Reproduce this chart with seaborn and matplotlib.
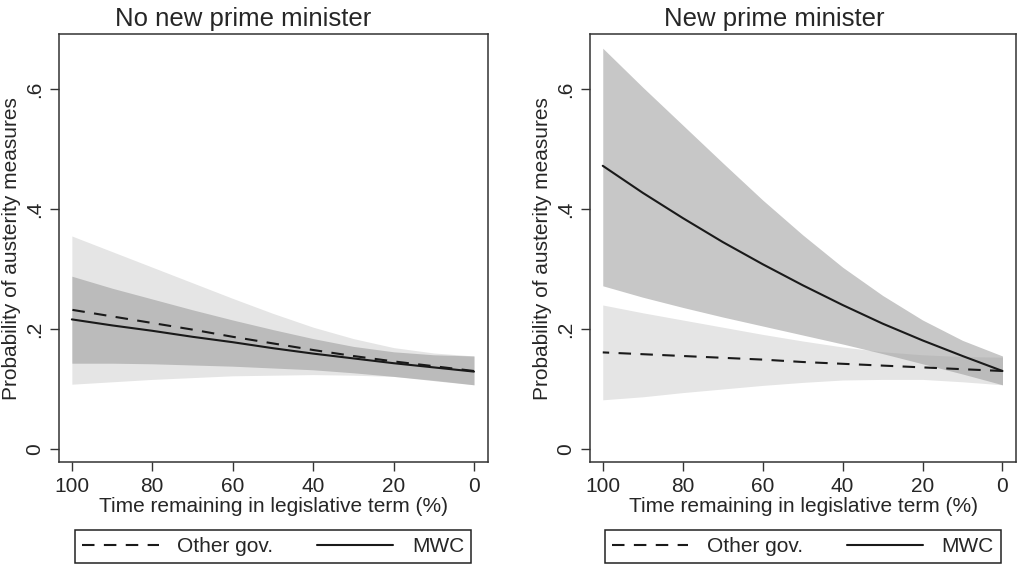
import numpy as np
import pandas as pd
import matplotlib.pyplot as plt
import seaborn as sns

# Predicted probabilities
time_left = [100, 90, 80, 70, 60, 50, 40, 30, 20, 10, 0]

# Panel 1: no new prime minister
other_nopm = [0.232, 0.221, 0.210, 0.199, 0.187, 0.176, 0.165, 0.155, 0.146, 0.138, 0.130]
other_nopm_lo = [0.108, 0.112, 0.116, 0.119, 0.122, 0.123, 0.124, 0.123, 0.121, 0.115, 0.107]
other_nopm_hi = [0.355, 0.329, 0.303, 0.277, 0.251, 0.226, 0.203, 0.184, 0.169, 0.160, 0.155]
mwc_nopm = [0.216, 0.206, 0.197, 0.187, 0.178, 0.168, 0.159, 0.151, 0.143, 0.136, 0.129]
mwc_nopm_lo = [0.143, 0.143, 0.142, 0.140, 0.138, 0.135, 0.132, 0.127, 0.121, 0.114, 0.107]
mwc_nopm_hi = [0.288, 0.268, 0.250, 0.232, 0.215, 0.199, 0.184, 0.171, 0.162, 0.157, 0.155]

# Panel 2: new prime minister
other_newpm = [0.161, 0.158, 0.155, 0.152, 0.149, 0.145, 0.142, 0.139, 0.136, 0.133, 0.130]
other_newpm_lo = [0.082, 0.087, 0.094, 0.100, 0.106, 0.111, 0.115, 0.116, 0.116, 0.112, 0.107]
other_newpm_hi = [0.240, 0.227, 0.215, 0.203, 0.191, 0.180, 0.170, 0.162, 0.157, 0.154, 0.153]
mwc_newpm = [0.472, 0.427, 0.385, 0.345, 0.308, 0.273, 0.240, 0.209, 0.181, 0.155, 0.130]
mwc_newpm_lo = [0.272, 0.253, 0.236, 0.220, 0.205, 0.190, 0.175, 0.159, 0.142, 0.125, 0.107]
mwc_newpm_hi = [0.668, 0.603, 0.540, 0.477, 0.415, 0.357, 0.303, 0.256, 0.215, 0.181, 0.155]

titles = ['No new prime minister', 'New prime minister']
ytick_vals = [0, 0.2, 0.4, 0.6]
ytick_labels = ['0', '.2', '.4', '.6']
xtick_vals = [100, 80, 60, 40, 20, 0]

sns.set_style('white')
plt.rcParams['font.family'] = ['Liberation Sans', 'DejaVu Sans']

fig = plt.figure(figsize=(10.17, 5.70), dpi=100)
ax1 = fig.add_axes([0.058, 0.1886, 0.4215, 0.7518])
ax2 = fig.add_axes([0.5801, 0.1886, 0.419, 0.7518])

panels = [
    (ax1, other_nopm, other_nopm_lo, other_nopm_hi, mwc_nopm, mwc_nopm_lo, mwc_nopm_hi),
    (ax2, other_newpm, other_newpm_lo, other_newpm_hi, mwc_newpm, mwc_newpm_lo, mwc_newpm_hi),
]

for i, (ax, oth, oth_lo, oth_hi, mwc, mwc_lo, mwc_hi) in enumerate(panels):
    # confidence bands: light for other gov., darker (semi-transparent) for MWC
    ax.fill_between(time_left, oth_lo, oth_hi, color='#e5e5e5', lw=0, zorder=1)
    ax.fill_between(time_left, mwc_lo, mwc_hi, color='#999999', alpha=0.55, lw=0, zorder=2)

    df = pd.DataFrame({'time': time_left, 'other': oth, 'mwc': mwc})
    sns.lineplot(data=df, x='time', y='other', ax=ax, color='#1a1a1a', lw=1.5,
                 linestyle=(0, (6, 4.5)), label='Other gov.', zorder=3)
    sns.lineplot(data=df, x='time', y='mwc', ax=ax, color='#1a1a1a', lw=1.5,
                 label='MWC', zorder=3)

    ax.set_xlim(103.2, -3.4)
    ax.set_ylim(-0.0225, 0.6917)
    ax.set_xticks(xtick_vals)
    ax.set_yticks(ytick_vals)
    ax.set_yticklabels(ytick_labels, rotation=90, va='center')
    ax.tick_params(axis='both', direction='out', length=6.5, width=1.0,
                   color='#333333', labelsize=15, pad=4, left=True, bottom=True)
    for sp in ax.spines.values():
        sp.set_color('#333333')
        sp.set_linewidth(1.1)

    ax.set_xlabel('Time remaining in legislative term (%)', fontsize=15, labelpad=1)
    ax.set_ylabel('Probability of austerity measures', fontsize=15, labelpad=3)

    leg = ax.legend(loc='upper center', bbox_to_anchor=(0.5, -0.157), ncol=2,
                    fontsize=15, frameon=True, fancybox=False, shadow=False,
                    handlelength=3.65, handletextpad=0.9, columnspacing=2.1,
                    borderpad=0.35, borderaxespad=0)
    leg.get_frame().set_edgecolor('#222222')
    leg.get_frame().set_linewidth(1.1)
    leg.get_frame().set_alpha(None)
    leg.get_frame().set_facecolor('white')

fig.text(243 / 1017, 0.955, titles[0], ha='center', va='baseline', fontsize=18.5)
fig.text(774 / 1017, 0.955, titles[1], ha='center', va='baseline', fontsize=18.5)

fig.savefig('out.png', dpi=100)
